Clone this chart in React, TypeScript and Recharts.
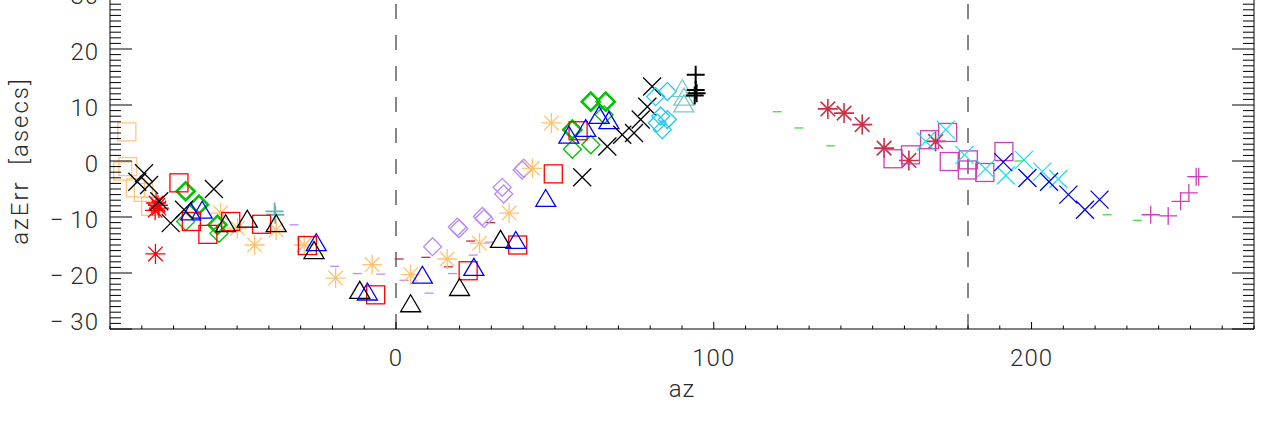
import { ScatterChart, Scatter, XAxis, YAxis, ReferenceLine } from 'recharts';

const FONT = 'Roboto, "DejaVu Sans", sans-serif';

// axis ticks
const X_LABELS = [0, 100, 200];
const X_TICKS = Array.from({ length: 37 }, (_, i) => -90 + i * 10);
const Y_TICKS = Array.from({ length: 61 }, (_, i) => -30 + i);
const DASHED_AZ = [0, 180];

// [az, azErr] per symbol / colour group
const orangeSquares = [[-84.7, 5.2], [-84.4, -1.0], [-86.0, -1.8], [-82.0, -4.8], [-79.5, -5.6], [-77.2, -8.1]];
const blackX = [
  [-79.3, -2.2], [-81.4, -3.7], [-77.7, -4.3], [-74.5, -7.2], [-70.9, -11.1], [-66.7, -8.7], [-57.3, -5.0],
  [58.6, -2.9], [66.5, 2.6], [71.2, 4.7], [74.9, 5.0], [77.0, 7.4], [79.1, 9.7], [80.6, 13.3],
];
const redAsterisks = [[-75.5, -7.5], [-74.6, -8.4], [-75.8, -8.8], [-74.9, -7.9], [-75.7, -16.6]];
const redSquares = [
  [-68.3, -3.9], [-64.4, -10.8], [-59.2, -13.1], [-52.0, -10.8], [-42.3, -11.3], [-27.9, -15.1],
  [-6.4, -23.9], [22.7, -19.6], [38.3, -15.0], [49.5, -2.3], [57.3, 5.4],
];
const greenDiamonds = [[-66.2, -10.8], [-55.7, -12.9], [55.5, 2.1], [61.3, 2.9], [65.5, 8.25]];
const greenDiamondsBold = [[-66.2, -5.4], [-62.0, -7.8], [-56.2, -11.4], [61.3, 10.6], [66.0, 10.6], [55.5, 5.6]];
const blueTriangles = [
  [-64.6, -9.0], [-61.0, -8.7], [-25.1, -14.5], [-9.0, -23.3], [8.3, -20.3], [24.5, -18.9],
  [37.7, -14.1], [47.1, -6.6], [54.4, 4.7], [59.7, 5.9], [63.9, 8.25], [67.0, 7.3],
];
const blackTriangles = [
  [-53.6, -11.1], [-46.8, -10.3], [-37.7, -11.1], [-25.8, -15.9], [-11.4, -23.0], [4.6, -25.4],
  [20.0, -22.5], [32.9, -13.9],
];
const orangeAsterisks = [
  [-55.2, -9.3], [-49.9, -12.0], [-44.5, -15.0], [-37.7, -12.3], [-28.9, -15.0], [-19.0, -20.9],
  [-7.5, -18.5], [4.6, -20.3], [16.1, -17.5], [26.3, -14.7], [35.6, -9.3], [42.9, -1.3], [48.9, 6.8],
];
const tealPlus = [[-38.2, -9.0], [-38.0, -9.6]];
const lavenderDashes = [
  [-32.1, -11.4], [-19.3, -18.8], [-12.2, -20.1], [-4.8, -20.2], [2.5, -21.3], [10.4, -23.6],
  [17.8, -20.1], [24.3, -16.8], [29.3, -14.5],
];
const darkRedDashes = [[1.0, -17.5], [9.4, -17.2], [16.5, -18.9], [23.5, -14.3], [29.8, -11.0]];
const lavenderDiamonds = [
  [11.5, -15.3], [19.3, -11.8], [19.8, -12.1], [27.2, -9.9], [27.7, -10.3], [33.4, -4.7],
  [33.9, -5.9], [39.7, -1.6], [40.2, -1.3],
];
const cyanDiamonds = [[81.7, 11.5], [85.4, 12.4], [83.3, 8.0], [85.4, 7.4], [82.2, 6.8], [83.8, 5.6]];
const tealTriangles = [[90.1, 13.0], [90.6, 11.5], [90.6, 10.3]];
const blackPlus = [[94.3, 15.4], [94.3, 12.7], [94.6, 12.1], [94.0, 11.7]];
const greenDashes = [[120.0, 8.8], [126.8, 5.9], [136.8, 2.7], [196.0, 0.0], [223.8, -9.6], [233.3, -10.6]];
const crimsonAsterisks = [[135.9, 9.3], [141.0, 8.55], [146.7, 6.5], [153.6, 2.3], [161.4, 0.1], [169.8, 3.5]];
const magentaSquares = [
  [156.4, 0.4], [161.9, 1.1], [167.9, 3.8], [173.6, 5.1], [174.1, -0.1], [179.8, -1.6],
  [180.1, 0.2], [185.3, -2.05], [191.3, 1.7],
];
const cyanX = [
  [166.7, 3.5], [173.0, 5.6], [178.9, 1.1], [185.5, -1.4], [191.9, -2.6], [197.6, 0.2],
  [203.4, -1.9], [208.4, -3.2],
];
const blueX = [[191.1, -0.2], [198.7, -3.05], [205.5, -3.7], [211.6, -6.0], [216.8, -8.7], [221.4, -6.9]];
const magentaPlus = [[237.5, -9.6], [243.0, -9.8], [246.9, -7.2], [249.5, -5.7], [251.8, -2.8], [252.6, -2.8]];

type Kind = 'square' | 'x' | 'asterisk' | 'diamond' | 'triangle' | 'plus' | 'dash';

const SERIES: { name: string; data: number[][]; kind: Kind; color: string; width?: number }[] = [
  { name: 'orangeSquares', data: orangeSquares, kind: 'square', color: '#ffc67e' },
  { name: 'lavenderDashes', data: lavenderDashes, kind: 'dash', color: '#b58cff' },
  { name: 'darkRedDashes', data: darkRedDashes, kind: 'dash', color: '#c8283c' },
  { name: 'greenDashes', data: greenDashes, kind: 'dash', color: '#44dd44' },
  { name: 'lavenderDiamonds', data: lavenderDiamonds, kind: 'diamond', color: '#b58cff' },
  { name: 'orangeAsterisks', data: orangeAsterisks, kind: 'asterisk', color: '#ffc270' },
  { name: 'tealPlus', data: tealPlus, kind: 'plus', color: '#5fb8b8', width: 1.8 },
  { name: 'greenDiamonds', data: greenDiamonds, kind: 'diamond', color: '#00c400' },
  { name: 'greenDiamondsBold', data: greenDiamondsBold, kind: 'diamond', color: '#00c400', width: 2.6 },
  { name: 'redAsterisks', data: redAsterisks, kind: 'asterisk', color: '#ff0000' },
  { name: 'redSquares', data: redSquares, kind: 'square', color: '#ff0000' },
  { name: 'blackTriangles', data: blackTriangles, kind: 'triangle', color: '#000000' },
  { name: 'blueTriangles', data: blueTriangles, kind: 'triangle', color: '#0000ff' },
  { name: 'blackX', data: blackX, kind: 'x', color: '#000000' },
  { name: 'cyanDiamonds', data: cyanDiamonds, kind: 'diamond', color: '#22c8ee' },
  { name: 'tealTriangles', data: tealTriangles, kind: 'triangle', color: '#80c8c8' },
  { name: 'blackPlus', data: blackPlus, kind: 'plus', color: '#000000', width: 2 },
  { name: 'crimsonAsterisks', data: crimsonAsterisks, kind: 'asterisk', color: '#c83246', width: 1.6 },
  { name: 'magentaSquares', data: magentaSquares, kind: 'square', color: '#cc3fb8' },
  { name: 'cyanX', data: cyanX, kind: 'x', color: '#22ddee' },
  { name: 'blueX', data: blueX, kind: 'x', color: '#0000e0' },
  { name: 'magentaPlus', data: magentaPlus, kind: 'plus', color: '#cc3fb8' },
];

function makeShape(kind: Kind, color: string, sw = 1.3) {
  return (p: any) => {
    const { cx, cy } = p;
    if (cx == null || cy == null) return <g />;
    const common = { stroke: color, strokeWidth: sw, fill: 'none' };
    const r = 9;
    switch (kind) {
      case 'square':
        return <rect x={cx - r} y={cy - r} width={2 * r} height={2 * r} {...common} />;
      case 'diamond':
        return <polygon points={`${cx - r},${cy} ${cx},${cy - r} ${cx + r},${cy} ${cx},${cy + r}`} {...common} />;
      case 'triangle':
        return <polygon points={`${cx - 10},${cy + 8.5} ${cx},${cy - 8.5} ${cx + 10},${cy + 8.5}`} {...common} />;
      case 'x':
        return (
          <path d={`M${cx - r},${cy - r}L${cx + r},${cy + r}M${cx - r},${cy + r}L${cx + r},${cy - r}`} {...common} />
        );
      case 'plus':
        return <path d={`M${cx - r},${cy}L${cx + r},${cy}M${cx},${cy - r}L${cx},${cy + r}`} {...common} />;
      case 'asterisk': {
        const a = 10;
        const d = 7.3;
        return (
          <path
            d={`M${cx - a},${cy}L${cx + a},${cy}M${cx},${cy - a}L${cx},${cy + a}M${cx - d},${cy - d}L${cx + d},${cy + d}M${cx - d},${cy + d}L${cx + d},${cy - d}`}
            {...common}
          />
        );
      }
      default:
        return <path d={`M${cx - 4.5},${cy}L${cx + 4.5},${cy}`} {...common} />;
    }
  };
}

const fmt = (v: number) => (v < 0 ? `\u2212\u2009${Math.abs(v)}` : String(v));

const textStyle = { fontSize: 24, fontWeight: 300, fontFamily: FONT, fill: '#2a2a2a', letterSpacing: 1 };

function LeftTick(props: any) {
  const { x, y, payload } = props;
  const v = payload.value;
  const major = v % 10 === 0;
  return (
    <g>
      <line x1={x} x2={x + (major ? 22 : 11)} y1={y} y2={y} stroke="#000" strokeWidth={1} />
      {major && (
        <text x={x - 11} y={y + (v === -30 ? 1 : 11)} textAnchor="end" {...textStyle}>
          {fmt(v)}
        </text>
      )}
    </g>
  );
}

function RightTick(props: any) {
  const { x, y, payload } = props;
  const major = payload.value % 10 === 0;
  return <line x1={x} x2={x - (major ? 22 : 11)} y1={y} y2={y} stroke="#000" strokeWidth={1} />;
}

function BottomTick(props: any) {
  const { x, y, payload } = props;
  const v = payload.value;
  const major = X_LABELS.includes(v);
  return (
    <g>
      <line x1={x} x2={x} y1={y} y2={y - (major ? 7 : 3.5)} stroke="#000" strokeWidth={1} />
      {major && (
        <text x={x} y={y + 37} textAnchor="middle" {...textStyle}>
          {fmt(v)}
        </text>
      )}
    </g>
  );
}

export default function App() {
  return (
    <div style={{ position: 'absolute', left: 0, top: -40, background: '#fff' }}>
      <ScatterChart width={1267} height={463} margin={{ top: 33, right: 0, bottom: 0, left: 0 }}>
        <XAxis
          type="number"
          dataKey="az"
          domain={[-90, 270]}
          ticks={X_TICKS}
          interval={0}
          allowDataOverflow
          height={94}
          tickSize={0}
          tickMargin={0}
          tick={(p: any) => <BottomTick {...p} />}
          axisLine={{ stroke: '#000', strokeWidth: 1 }}
          tickLine={false}
        />
        <YAxis
          yAxisId="l"
          type="number"
          dataKey="err"
          domain={[-30, 30]}
          ticks={Y_TICKS}
          interval={0}
          allowDataOverflow
          width={110}
          tickSize={0}
          tickMargin={0}
          tick={(p: any) => <LeftTick {...p} />}
          axisLine={{ stroke: '#000', strokeWidth: 1 }}
          tickLine={false}
        />
        <YAxis
          yAxisId="r"
          orientation="right"
          type="number"
          domain={[-30, 30]}
          ticks={Y_TICKS}
          interval={0}
          allowDataOverflow
          width={13}
          tickSize={0}
          tickMargin={0}
          tick={(p: any) => <RightTick {...p} />}
          axisLine={{ stroke: '#000', strokeWidth: 1 }}
          tickLine={false}
        />
        {DASHED_AZ.map((a) => (
          <ReferenceLine key={a} x={a} yAxisId="l" stroke="#111" strokeWidth={1} strokeDasharray="15 16" />
        ))}
        {SERIES.map((s) => (
          <Scatter
            key={s.name}
            name={s.name}
            yAxisId="l"
            data={s.data.map(([az, err]) => ({ az, err }))}
            shape={makeShape(s.kind, s.color, s.width)}
            isAnimationActive={false}
          />
        ))}
      </ScatterChart>
      <svg width={1267} height={463} style={{ position: 'absolute', left: 0, top: 0, pointerEvents: 'none' }}>
        <text x={682} y={437} textAnchor="middle" {...textStyle}>
          az
        </text>
        <text x={28} y={201} transform="rotate(-90, 28, 201)" textAnchor="middle" {...textStyle} letterSpacing={2}>
          {'azErr\u00a0\u00a0[asecs]'}
        </text>
      </svg>
    </div>
  );
}
